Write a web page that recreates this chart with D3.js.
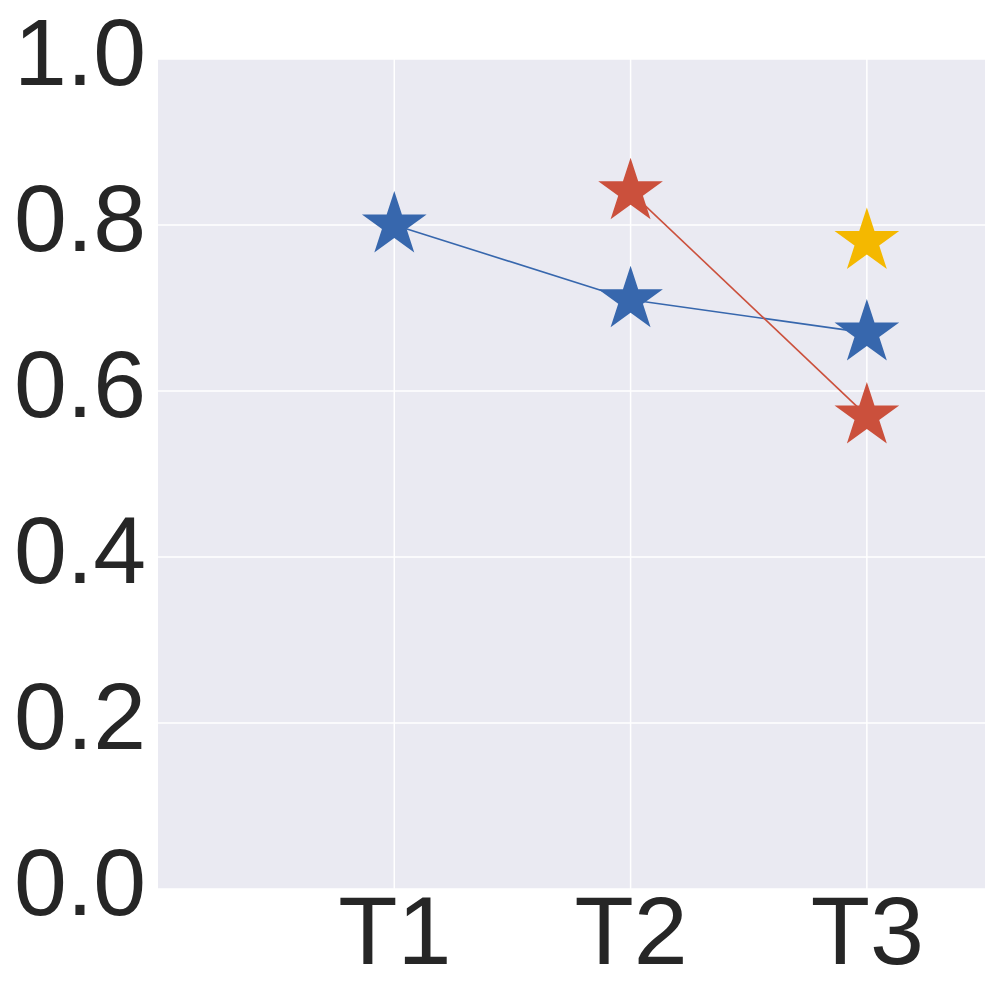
<!DOCTYPE html>
<html>
<head>
<meta charset="utf-8">
<script src="https://cdn.jsdelivr.net/npm/d3@7"></script>
<style>
	body { margin: 0; background: #fff; }
	text { font-family: "Liberation Sans", Arial, sans-serif; fill: #262626; }
</style>
</head>
<body>
<div class="chart"></div>
<script>
var categories = ["T1", "T2", "T3"];
var yTicks = [0.0, 0.2, 0.4, 0.6, 0.8, 1.0];
var blueVals = [0.80, 0.71, 0.67];
var redVals = [null, 0.84, 0.57];
var yellowVals = [null, null, 0.78];

var series = [
	{ name: "blue", color: "#3767ad", values: blueVals },
	{ name: "red", color: "#cb503c", values: redVals },
	{ name: "yellow", color: "#f4b800", values: yellowVals }
];

var width = 1000, height = 1000;
var margin = { left: 158, right: 15, top: 59, bottom: 111 };

var svg = d3.select(".chart").append("svg")
	.attr("width", width)
	.attr("height", height);

// positions 0..3.5, categories sit at 1,2,3
var x = d3.scaleLinear()
	.domain([0, 3.5])
	.range([margin.left, width - margin.right]);

var y = d3.scaleLinear()
	.domain([0, 1])
	.range([height - margin.bottom, margin.top]);

svg.append("rect")
	.attr("x", x(0))
	.attr("y", y(1))
	.attr("width", x(3.5) - x(0))
	.attr("height", y(0) - y(1))
	.attr("fill", "#eaeaf2");

// grid
svg.append("g").selectAll("line").data(yTicks).join("line")
	.attr("x1", x(0)).attr("x2", x(3.5))
	.attr("y1", function(d){ return y(d) }).attr("y2", function(d){ return y(d) })
	.attr("stroke", "#fff").attr("stroke-width", 1.5);

svg.append("g").selectAll("line").data(categories).join("line")
	.attr("x1", function(d, i){ return x(i + 1) }).attr("x2", function(d, i){ return x(i + 1) })
	.attr("y1", y(0)).attr("y2", y(1))
	.attr("stroke", "#fff").attr("stroke-width", 1.5);

// axes
var yAxis = d3.axisLeft(y).tickValues(yTicks).tickFormat(d3.format(".1f")).tickSize(0).tickPadding(12);
var gy = svg.append("g").attr("transform", "translate(" + x(0) + ",0)").call(yAxis);
gy.select(".domain").remove();
gy.selectAll("text").attr("font-size", 95).attr("dy", "0.27em").style("fill", "#262626")
	.attr("font-family", "Liberation Sans, Arial, sans-serif");

var xAxis = d3.axisBottom(x).tickValues([1, 2, 3])
	.tickFormat(function(d){ return categories[d - 1] }).tickSize(0).tickPadding(6);
var gx = svg.append("g").attr("transform", "translate(0," + y(0) + ")").call(xAxis);
gx.select(".domain").remove();
gx.selectAll("text").attr("font-size", 97).style("fill", "#262626")
	.attr("font-family", "Liberation Sans, Arial, sans-serif");

// lines first, then stars
var line = d3.line()
	.defined(function(d){ return d !== null })
	.x(function(d, i){ return x(i + 1) })
	.y(function(d){ return y(d) });

series.forEach(function(s) {
	svg.append("path")
		.attr("d", line(s.values))
		.attr("fill", "none")
		.attr("stroke", s.color)
		.attr("stroke-width", 1.6);
});

var R = 34;
var star = d3.symbol().type(d3.symbolStar).size(R * R / 0.8908130915292852);

series.forEach(function(s) {
	svg.append("g").selectAll("path")
		.data(s.values.map(function(v, i){ return { v: v, i: i } }).filter(function(d){ return d.v !== null }))
		.join("path")
		.attr("d", star)
		.attr("transform", function(d){ return "translate(" + x(d.i + 1) + "," + y(d.v) + ")" })
		.attr("fill", s.color);
});
</script>
</body>
</html>
